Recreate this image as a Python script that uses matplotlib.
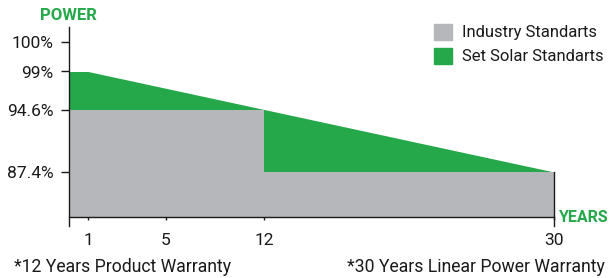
import numpy as np
import matplotlib
matplotlib.use('Agg')
import matplotlib.pyplot as plt
from matplotlib.patches import Patch

plt.rcParams['font.family'] = ['Roboto', 'DejaVu Sans']

# data
years_solar = [0, 1, 30]
power_solar = [99, 99, 87.4]
years_industry = [0, 12, 12, 30]
power_industry = [94.6, 94.6, 87.4, 87.4]
x_ticks = [1, 5, 12, 30]
x_tick_labels = ['1', '5', '12', '30']
y_ticks = [100, 99, 94.6, 87.4]
y_tick_labels = ['100%', '99%', '94.6%', '87.4%']
legend_labels = ['Industry Standarts', 'Set Solar Standarts']
notes = ['*12 Years Product Warranty', '*30 Years Linear Power Warranty']

GREEN = '#25a84a'
GRAY = '#b6b7bb'
TXT = '#1a1a1a'

# the original axes are not drawn to scale -> piecewise linear scales
x_val = [-10, 0, 1, 5, 12, 30, 40]
x_pix = [-121, 69, 88, 166, 264, 554, 715]
y_val = [60, 87.4, 94.6, 99, 100, 110]
y_pix = [410, 172, 109.5, 71.5, 42, -253]


def fx(v):
    return np.interp(v, x_val, x_pix)


def fx_inv(p):
    return np.interp(p, x_pix, x_val)


def fy(v):
    return -np.interp(v, y_val, y_pix)


def fy_inv(p):
    return np.interp(-p, y_pix[::-1], y_val[::-1])


W, H = 613, 278
fig = plt.figure(figsize=(W / 100, H / 100), dpi=100)
ax = fig.add_axes([69 / W, 1 - 217 / H, (554 - 69) / W, (217 - 27) / H])
ax.set_xscale('function', functions=(fx, fx_inv))
ax.set_yscale('function', functions=(fy, fy_inv))
y_bottom = fy_inv(-217)
y_top = fy_inv(-27)
y_below = fy_inv(-226)
ax.set_xlim(0, 30)
ax.set_ylim(y_bottom, y_top)

ax.fill_between(years_solar, y_bottom, power_solar, color=GREEN, lw=0, zorder=1)
ax.fill_between(years_industry, y_bottom, power_industry, color=GRAY, lw=0, zorder=2)

for s in ['top', 'right', 'left']:
    ax.spines[s].set_visible(False)
ax.spines['bottom'].set_color(TXT)
ax.spines['bottom'].set_linewidth(1.0)
ax.plot([0, 0], [y_below, y_top], color=TXT, lw=1.0, clip_on=False, zorder=3)
ax.plot([30, 30], [y_below, power_solar[-1]], color=TXT, lw=1.0, clip_on=False, zorder=3)

ax.set_xticks(x_ticks)
ax.set_xticklabels(x_tick_labels)
ax.set_yticks(y_ticks)
ax.set_yticklabels(y_tick_labels)
ax.minorticks_off()
ax.tick_params(axis='x', direction='out', length=2.5, width=1, color=TXT, pad=9,
               labelsize=12.5, labelcolor=TXT)
ax.tick_params(axis='y', direction='out', length=6, width=1, color=TXT, pad=5,
               labelsize=12.5, labelcolor=TXT)

fig.text(40 / W, 1 - 16 / H, 'POWER', color=GREEN, fontsize=12, fontweight='bold',
         ha='left', va='center')
fig.text(559 / W, 1 - 217 / H, 'YEARS', color=GREEN, fontsize=11.5, fontweight='bold',
         ha='left', va='center')

fig.text(14 / W, 1 - 267 / H, notes[0], color=TXT, fontsize=12.7, ha='left', va='center')
fig.text(605 / W, 1 - 267 / H, notes[1], color=TXT, fontsize=12.7, ha='right', va='center')

handles = [Patch(color=GRAY, label=legend_labels[0]),
           Patch(color=GREEN, label=legend_labels[1])]
fig.legend(handles=handles, loc='upper left', bbox_to_anchor=(427 / W, 1 - 17 / H),
           frameon=False, fontsize=12, handlelength=1.1, handleheight=1.1,
           handletextpad=0.6, labelspacing=0.45, borderaxespad=0, labelcolor=TXT)

fig.savefig('out.png', dpi=100)
